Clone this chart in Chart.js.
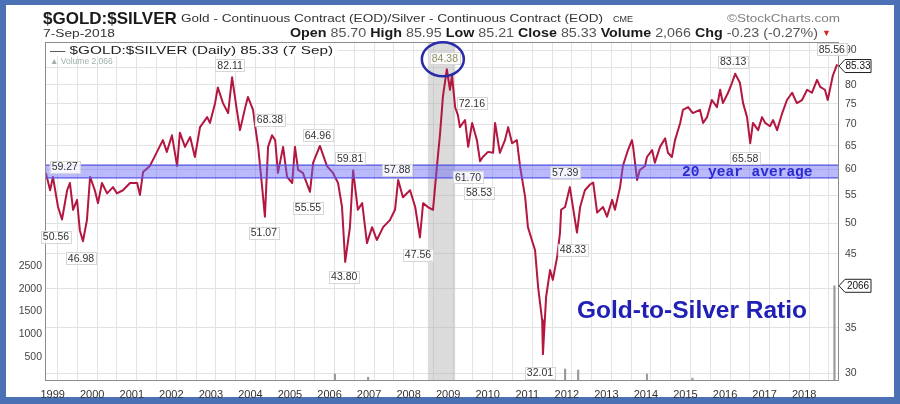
<!DOCTYPE html>
<html>
<head>
<meta charset="utf-8">
<title>Gold-to-Silver Ratio</title>
<script src="https://cdn.jsdelivr.net/npm/chart.js@4.4.0/dist/chart.umd.min.js"></script>
<style>
  html, body { margin: 0; padding: 0; background: #fff; }
  #wrap { width: 900px; height: 404px; }
</style>
</head>
<body>
<div id="wrap"><canvas id="chart" width="900" height="404"></canvas></div>
<script>
// ── DATA ──────────────────────────────
// decimal year of each traced point / gold:silver ratio at that point
const years = [
  1998.70, 1998.81, 1998.88,
  1999.01, 1999.11, 1999.24, 1999.31, 1999.39, 1999.49, 1999.56, 1999.64, 1999.74, 1999.82, 1999.94,
  2000.02, 2000.12, 2000.25, 2000.40, 2000.50, 2000.65, 2000.83,
  2001.01, 2001.08, 2001.16, 2001.33, 2001.41, 2001.66, 2001.76, 2001.89,
  2002.02, 2002.09, 2002.22, 2002.35, 2002.47, 2002.60, 2002.78, 2002.85, 2002.98,
  2003.05, 2003.18, 2003.31, 2003.41, 2003.53, 2003.61, 2003.74, 2003.81, 2003.94, 2003.99,
  2004.07, 2004.17, 2004.24, 2004.32, 2004.42, 2004.50, 2004.57, 2004.70, 2004.80, 2004.93,
  2005.00, 2005.08, 2005.20, 2005.38, 2005.46, 2005.63, 2005.81, 2005.96,
  2006.09, 2006.19, 2006.27, 2006.39, 2006.47, 2006.59, 2006.70, 2006.82, 2006.95,
  2007.07, 2007.23, 2007.40, 2007.53, 2007.61, 2007.73, 2007.91,
  2008.04, 2008.16, 2008.24, 2008.36, 2008.49, 2008.59, 2008.67, 2008.74, 2008.84, 2008.92, 2008.97,
  2009.05, 2009.12, 2009.17, 2009.30, 2009.38, 2009.48, 2009.60, 2009.68, 2009.75, 2009.88,
  2010.01, 2010.06, 2010.18, 2010.31, 2010.39, 2010.49, 2010.61, 2010.69, 2010.82, 2010.89, 2010.99,
  2011.07, 2011.15, 2011.25, 2011.27, 2011.35, 2011.45, 2011.52, 2011.63, 2011.70, 2011.73, 2011.83, 2011.95,
  2012.08, 2012.13, 2012.21, 2012.33, 2012.46, 2012.54, 2012.64, 2012.79, 2012.89,
  2013.02, 2013.09, 2013.22, 2013.29, 2013.42, 2013.52, 2013.55, 2013.65, 2013.72, 2013.85, 2013.90,
  2014.03, 2014.10, 2014.23, 2014.36, 2014.43, 2014.53, 2014.61, 2014.74, 2014.81, 2014.94,
  2015.06, 2015.24, 2015.32, 2015.42, 2015.54, 2015.67, 2015.75, 2015.82, 2015.95,
  2016.05, 2016.13, 2016.25, 2016.33, 2016.43, 2016.51, 2016.58, 2016.71, 2016.81, 2016.89,
  2017.01, 2017.09, 2017.19, 2017.32, 2017.44, 2017.57, 2017.69, 2017.82, 2017.95,
  2018.07, 2018.20, 2018.28, 2018.40, 2018.47, 2018.60, 2018.70, 2018.72,
];
const ratios = [
  59.3, 55.9, 58.5,
  52.8, 50.6, 55.9, 57.3, 52.3, 54.1, 48.8, 47.0, 50.5, 58.5, 55.9,
  53.5, 57.3, 55.3, 56.5, 55.3, 55.9, 57.3,
  57.3, 55.0, 59.5, 60.7, 62.0, 66.3, 63.7, 67.4,
  60.7, 68.0, 64.8, 67.0, 62.6, 69.3, 71.7, 70.3, 75.2,
  79.3, 75.2, 72.7, 82.1, 73.5, 68.6, 74.0, 76.8, 73.5, 69.8,
  64.8, 56.5, 51.1, 64.8, 67.4, 66.3, 59.3, 64.8, 58.5, 57.3,
  64.8, 59.9, 59.3, 55.6, 61.4, 65.0, 60.7, 59.3,
  57.3, 52.8, 43.8, 49.3, 59.8, 52.3, 53.5, 46.7, 49.3,
  47.2, 49.3, 50.5, 52.3, 57.9, 54.6, 55.9,
  52.8, 47.6, 53.5, 52.8, 52.3, 60.7, 67.9, 76.8, 84.4, 78.7, 82.6,
  74.2, 72.2, 69.3, 71.0, 64.8, 70.3, 66.3, 61.7, 62.6, 63.7,
  63.5, 70.3, 63.5, 66.3, 69.3, 65.6, 66.3, 60.7, 54.6, 49.3, 47.2,
  45.6, 40.1, 35.9, 32.0, 38.9, 42.6, 41.2, 44.6, 48.3, 52.3, 52.8, 56.5,
  50.5, 48.4, 52.8, 55.9, 57.0, 57.4, 51.8, 52.8, 51.1,
  54.1, 52.3, 56.5, 60.7, 64.1, 66.3, 64.8, 57.9, 59.9, 60.7, 62.6,
  64.1, 61.4, 64.8, 66.7, 63.5, 62.6, 66.3, 70.3, 73.5, 74.2,
  72.7, 73.5, 70.3, 71.7, 76.0, 74.2, 78.7, 75.2, 77.9,
  80.6, 83.1, 80.6, 75.2, 71.7, 65.6, 70.3, 68.6, 71.7, 70.3,
  69.5, 71.0, 68.6, 72.7, 76.0, 77.9, 75.2, 76.0, 78.7,
  77.9, 81.4, 79.5, 78.7, 76.0, 82.6, 85.6, 85.33,
];

// daily volume (only the visible spikes)
const volYears  = [2006.01, 2006.85, 2011.83, 2012.16, 2013.90, 2015.05, 2018.64];
const volValues = [130, 60, 240, 220, 130, 40, 2066];

// annotated highs / lows
const noteYears  = [1998.70, 1999.11, 1999.64, 2003.41, 2004.04, 2004.24, 2005.63, 2005.38, 2006.47, 2006.27, 2007.61,
                    2008.16, 2008.84, 2009.12, 2009.68, 2009.73, 2011.27, 2011.70, 2012.54, 2016.13, 2016.51, 2018.70];
const noteValues = [59.27, 50.56, 46.98, 82.11, 68.38, 51.07, 64.96, 55.55, 59.81, 43.80, 57.88,
                    47.56, 84.38, 72.16, 61.70, 58.53, 32.01, 48.33, 57.39, 83.13, 65.58, 85.56];

// 20-year average band (low / high) and the shaded 2008 crisis span
const bandValues = [58.3, 60.9];
const shadeYears = [2008.36, 2009.05];

// axis ticks
const yearTicks   = [1999, 2000, 2001, 2002, 2003, 2004, 2005, 2006, 2007, 2008,
                     2009, 2010, 2011, 2012, 2013, 2014, 2015, 2016, 2017, 2018];
const priceTicks  = [30, 35, 40, 45, 50, 55, 60, 65, 70, 75, 80, 85, 90];
const volumeTicks = [500, 1000, 1500, 2000, 2500];

// ── STYLE ─────────────────────────────
const FONT = '"Liberation Sans", Arial, sans-serif';
const X_MIN = 1998.68, X_MAX = 2018.73;
// pixel offsets of each note from its point [dx, dy]
const noteOffsets = [[19,-6],[-6,17],[-2,17],[-2,-12],[13,-11],[-1,16],[-2,-11],[-2,16],[-3,-12],[-1,15],[-1,-10],
                     [-2,17],[-2,-11],[14,-12],[-12,16],[-3,16],[-3,19],[13,17],[-28,-10],[-2,-12],[-5,15],[-5,-16]];

// ── HELPERS ───────────────────────────
function tag(c, text, cx, cy, color) {
  c.font = `10.5px ${FONT}`;
  const w = c.measureText(text).width + 4, h = 12;
  c.fillStyle = 'rgba(255,255,255,0.85)';
  c.fillRect(cx - w / 2, cy - h / 2, w, h);
  c.strokeStyle = '#d6d6d6'; c.lineWidth = 1;
  c.strokeRect(Math.round(cx - w / 2) + 0.5, Math.round(cy - h / 2) + 0.5, Math.round(w), h);
  c.fillStyle = color; c.textAlign = 'center'; c.textBaseline = 'middle';
  c.fillText(text, cx, cy + 0.5);
}

function pointer(c, text, tipX, cy) {
  const h = 13, bx = tipX + 6, w = 26;
  c.beginPath();
  c.moveTo(tipX, cy); c.lineTo(bx, cy - h / 2); c.lineTo(bx + w, cy - h / 2);
  c.lineTo(bx + w, cy + h / 2); c.lineTo(bx, cy + h / 2); c.closePath();
  c.fillStyle = '#fff'; c.fill();
  c.strokeStyle = '#222'; c.lineWidth = 1; c.stroke();
  c.fillStyle = '#111'; c.font = `10px ${FONT}`;
  c.textAlign = 'center'; c.textBaseline = 'middle';
  c.fillText(text, bx + w / 2, cy + 0.5);
}

// draw a run of [text, weight, color] pieces at `size`, stretched sideways to `width`
function fitRun(c, x, y, width, size, parts) {
  let total = 0;
  parts.forEach(([t, wt]) => { c.font = `${wt} ${size}px ${FONT}`; total += c.measureText(t).width; });
  const k = width / total;
  c.save();
  c.translate(x, y); c.scale(k, 1);
  let cx = 0;
  parts.forEach(([t, wt, col]) => {
    c.font = `${wt} ${size}px ${FONT}`; c.fillStyle = col;
    c.fillText(t, cx, 0);
    cx += c.measureText(t).width;
  });
  c.restore();
  return x + width;
}

// ── DECORATION PLUGIN ─────────────────
const decor = {
  id: 'decor',
  beforeDraw(chart) {
    const c = chart.ctx;
    c.save();
    c.fillStyle = '#4c70b4';
    c.fillRect(0, 0, chart.width, chart.height);
    c.fillStyle = '#fff';
    c.fillRect(6, 5, 888, 392);
    c.restore();
  },
  beforeDatasetsDraw(chart) {
    const { ctx: c, chartArea: a, scales: { x } } = chart;
    const x0 = x.getPixelForValue(shadeYears[0]), x1 = x.getPixelForValue(shadeYears[1]);
    c.save();
    c.fillStyle = 'rgba(170,170,170,0.42)';
    c.fillRect(x0, a.top, x1 - x0, a.bottom - a.top);
    c.restore();
  },
  afterDatasetsDraw(chart) {
    const { ctx: c, chartArea: a, scales: { x, y, yv } } = chart;
    c.save();

    // plot frame
    c.strokeStyle = '#8c8c8c'; c.lineWidth = 1;
    c.strokeRect(a.left + 0.5, a.top + 0.5, a.right - a.left, a.bottom - a.top);

    // in-plot legend
    c.fillStyle = '#fff';
    c.fillRect(a.left + 1, a.top + 1, 292, 13);
    c.textAlign = 'left'; c.textBaseline = 'alphabetic';
    fitRun(c, a.left + 5, a.top + 12, 283, 11.5, [['\u2014 $GOLD:$SILVER (Daily) 85.33 (7 Sep)', '', '#222']]);
    c.font = `8.5px ${FONT}`; c.fillStyle = '#9fb0a8';
    c.fillText('\u25B2 Volume 2,066', a.left + 5, a.top + 22);

    // value notes
    noteValues.forEach((v, i) => {
      const px = x.getPixelForValue(noteYears[i]) + noteOffsets[i][0];
      const py = y.getPixelForValue(v) + noteOffsets[i][1];
      const peak = v === 84.38;
      tag(c, v.toFixed(2), px, py, peak ? '#8d8d62' : '#333');
      if (peak) {
        c.beginPath();
        c.ellipse(px - 2, py + 1, 21, 17, 0, 0, Math.PI * 2);
        c.strokeStyle = '#2b2ba6'; c.lineWidth = 2.5; c.stroke();
      }
    });

    // band caption
    c.font = `bold 14.5px "Liberation Mono", "DejaVu Sans Mono", monospace`;
    c.fillStyle = '#2a2ad2'; c.textAlign = 'left'; c.textBaseline = 'middle';
    c.fillText('20 year average', 682, y.getPixelForValue(Math.sqrt(bandValues[0] * bandValues[1])) + 1);

    // chart title in plot
    c.font = `bold 24.5px ${FONT}`;
    c.fillStyle = '#2020b4';
    c.fillText('Gold-to-Silver Ratio', 577, 311);

    // last value pointers on the right axis
    pointer(c, ratios[ratios.length - 1].toFixed(2), a.right + 1, y.getPixelForValue(ratios[ratios.length - 1]));
    pointer(c, String(volValues[volValues.length - 1]), a.right + 1, yv.getPixelForValue(volValues[volValues.length - 1]));
    c.restore();
  },
  afterDraw(chart) {
    const c = chart.ctx;
    c.save();
    c.textAlign = 'left'; c.textBaseline = 'alphabetic';
    c.font = `bold 17px ${FONT}`; c.fillStyle = '#1a1a1a';
    c.fillText('$GOLD:$SILVER', 43, 24);
    fitRun(c, 181, 22, 422, 11, [['Gold - Continuous Contract (EOD)/Silver - Continuous Contract (EOD)', '', '#333']]);
    fitRun(c, 613, 22, 20, 9, [['CME', '', '#333']]);
    fitRun(c, 727, 22, 113, 11, [['\u00A9StockCharts.com', '', '#808080']]);

    fitRun(c, 43, 37, 72, 11.5, [['7-Sep-2018', '', '#333']]);
    const end = fitRun(c, 290, 37, 532, 12, [
      ['Open', 'bold', '#1a1a1a'], [' 85.70 ', '', '#555'],
      ['High', 'bold', '#1a1a1a'], [' 85.95 ', '', '#555'],
      ['Low', 'bold', '#1a1a1a'], [' 85.21 ', '', '#555'],
      ['Close', 'bold', '#1a1a1a'], [' 85.33 ', '', '#555'],
      ['Volume', 'bold', '#1a1a1a'], [' 2,066 ', '', '#555'],
      ['Chg', 'bold', '#1a1a1a'], [' -0.23 (-0.27%) ', '', '#555'],
    ]);
    c.font = `9px ${FONT}`; c.fillStyle = '#d42828';
    c.fillText('\u25BC', end, 36);
    c.restore();
  },
};

// ── CHART ─────────────────────────────
const halfYears = yearTicks.flatMap(yr => [yr, yr + 0.5]);

new Chart(document.getElementById('chart'), {
  type: 'line',
  data: {
    datasets: [
      {
        label: 'band high',
        data: [{ x: X_MIN, y: bandValues[1] }, { x: X_MAX, y: bandValues[1] }],
        yAxisID: 'y',
        borderColor: '#5252e0', borderWidth: 1.2,
        backgroundColor: 'rgba(100,100,248,0.45)',
        fill: '+1', pointRadius: 0, order: 0,
      },
      {
        label: 'band low',
        data: [{ x: X_MIN, y: bandValues[0] }, { x: X_MAX, y: bandValues[0] }],
        yAxisID: 'y',
        borderColor: '#5252e0', borderWidth: 1.2,
        fill: false, pointRadius: 0, order: 0,
      },
      {
        label: '$GOLD:$SILVER',
        data: years.map((t, i) => ({ x: t, y: ratios[i] })),
        yAxisID: 'y',
        borderColor: '#b3173f', borderWidth: 2,
        borderJoinStyle: 'round',
        pointRadius: 0, tension: 0, fill: false, order: 1,
      },
      {
        type: 'bar',
        label: 'Volume',
        data: volYears.map((t, i) => ({ x: t, y: volValues[i] })),
        yAxisID: 'yv',
        backgroundColor: '#9a9a9a',
        barThickness: 1.5, order: 2,
      },
    ],
  },
  options: {
    responsive: false,
    animation: false,
    layout: { padding: { top: 42, left: 0, right: 0, bottom: 0 } },
    plugins: { legend: { display: false }, tooltip: { enabled: false } },
    scales: {
      x: {
        type: 'linear', position: 'bottom', min: X_MIN, max: X_MAX, offset: false,
        afterBuildTicks: s => { s.ticks = halfYears.map(v => ({ value: v })); },
        afterFit: s => { s.height = 24; },
        grid: { color: '#e3e3e3', drawTicks: false, offset: false },
        border: { color: '#8c8c8c' },
        ticks: {
          autoSkip: false, maxRotation: 0, padding: 8, labelOffset: -5,
          color: '#333', font: { family: FONT, size: 11 },
          callback: v => Number.isInteger(v) ? String(v) : '',
        },
      },
      y: {
        type: 'logarithmic', position: 'right', min: 29.3, max: 92.6,
        afterBuildTicks: s => { s.ticks = priceTicks.map(v => ({ value: v })); },
        afterFit: s => { s.width = 62; },
        grid: { color: '#e3e3e3', drawTicks: false },
        border: { color: '#8c8c8c' },
        ticks: {
          padding: 7, color: '#444', font: { family: FONT, size: 10.5 },
          callback: v => (v === 40 || v === 85) ? '' : String(v),
        },
      },
      yv: {
        type: 'linear', position: 'left', min: 0, max: 7412,
        afterBuildTicks: s => { s.ticks = volumeTicks.map(v => ({ value: v })); },
        afterFit: s => { s.width = 45; },
        grid: { display: false, drawTicks: false },
        border: { color: '#8c8c8c' },
        ticks: {
          padding: 3, color: '#444', font: { family: FONT, size: 10.5 },
          callback: v => String(v),
        },
      },
    },
  },
  plugins: [decor],
});
</script>
</body>
</html>
